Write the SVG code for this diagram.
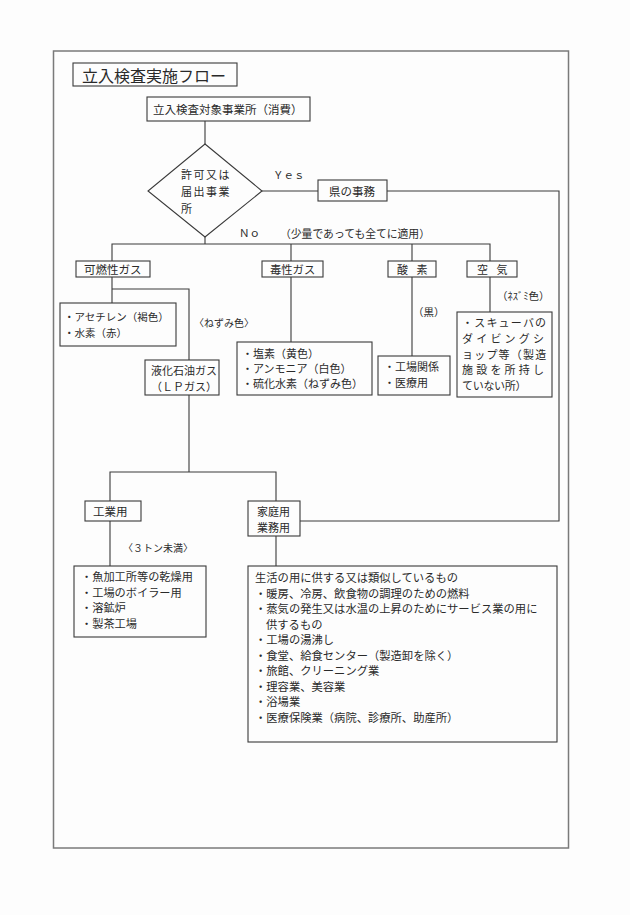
<svg xmlns="http://www.w3.org/2000/svg" width="630" height="915" viewBox="0 0 630 915">
<style>
.bg{fill:#fdfdfd}
.frame{fill:none;stroke:#7a7a7a;stroke-width:1.5}
.box{fill:#fdfdfd;stroke:#3a3a3a;stroke-width:1.1}
.ln{fill:none;stroke:#3a3a3a;stroke-width:1.1}
text{font-family:"Noto Sans CJK JP","Noto Sans CJK SC",sans-serif;fill:#2a2a2a;font-size:11px;dominant-baseline:central}
.t{font-size:16px}
</style>
<rect class="bg" x="0" y="0" width="630" height="915"/>
<rect class="frame" x="53.5" y="51" width="515" height="797"/>
<g id="connectors">
<path class="ln" d="M205 121V144"/>
<path class="ln" d="M262 191H318"/>
<path class="ln" d="M387 191H559V521H300"/>
<path class="ln" d="M205 237V244"/>
<path class="ln" d="M112 261V244H490V261"/>
<path class="ln" d="M291 244V261"/>
<path class="ln" d="M412 244V261"/>
<path class="ln" d="M112 277V303"/>
<path class="ln" d="M112 289H189V360"/>
<path class="ln" d="M291 277V342"/>
<path class="ln" d="M412 277V356"/>
<path class="ln" d="M490 277V312"/>
<path class="ln" d="M189 395V472"/>
<path class="ln" d="M110 501V472H276V501"/>
<path class="ln" d="M110 521V566"/>
<path class="ln" d="M276 536V566"/>
</g>
<g id="title"><rect class="box" x="73" y="63" width="164" height="23"/><text class="t" x="82" y="75">立入検査実施フロー</text></g>
<g id="start"><rect class="box" x="147" y="97" width="163" height="24"/><text x="153" y="109" style="font-size:11.5px">立入検査対象事業所（消費）</text></g>
<g id="decision"><polygon class="box" points="205,144 262,191 205,237 148,191"/>
<text x="181" y="174" letter-spacing="1.5">許可又は</text>
<text x="181" y="191" letter-spacing="1.5">届出事業</text>
<text x="181" y="208">所</text></g>
<text x="273" y="174" style="font-size:10.5px">Ｙｅｓ</text>
<text x="239" y="232" style="font-size:10.5px">Ｎｏ</text>
<text x="280" y="233" style="font-size:10.8px">（少量であっても全てに適用）</text>
<g id="pref"><rect class="box" x="318" y="180" width="69" height="21"/><text x="329" y="191" style="font-size:11.5px">県の事務</text></g>
<g id="flammable"><rect class="box" x="76" y="261" width="74" height="16"/><text x="84" y="269" style="font-size:11.5px">可燃性ガス</text></g>
<g id="toxic"><rect class="box" x="262" y="261" width="61" height="16"/><text x="270" y="269" style="font-size:11.3px">毒性ガス</text></g>
<g id="oxygen"><rect class="box" x="388" y="261" width="48" height="16"/><text x="397" y="269" letter-spacing="3">酸 素</text></g>
<g id="air"><rect class="box" x="467" y="261" width="50" height="16"/><text x="477" y="269" letter-spacing="3">空 気</text></g>
<g id="acetylene"><rect class="box" x="60" y="303" width="116" height="43"/>
<text x="64" y="316" style="font-size:10.5px">・アセチレン（褐色）</text>
<text x="64" y="332" style="font-size:10.5px">・水素（赤）</text></g>
<text x="194" y="322" style="font-size:10px">〈ねずみ色〉</text>
<g id="lpg"><rect class="box" x="145" y="360" width="74" height="35"/>
<text x="151" y="370">液化石油ガス</text>
<text x="151" y="386">（ＬＰガス）</text></g>
<g id="toxiclist"><rect class="box" x="237" y="342" width="135" height="53"/>
<text x="242" y="353">・塩素（黄色）</text>
<text x="242" y="368">・アンモニア（白色）</text>
<text x="242" y="383">・硫化水素（ねずみ色）</text></g>
<text x="413" y="311" style="font-size:10.5px">（黒）</text>
<g id="oxylist"><rect class="box" x="378" y="356" width="72" height="39"/>
<text x="384" y="366">・工場関係</text>
<text x="384" y="382">・医療用</text></g>
<text x="497" y="295" style="font-size:10.5px">（ﾈｽﾞﾐ色）</text>
<g id="airlist"><rect class="box" x="457" y="312" width="95" height="85"/>
<text x="462" y="322" letter-spacing="1.2">・スキューバの</text>
<text x="462" y="338" letter-spacing="3.2">ダイビングシ</text>
<text x="462" y="354" letter-spacing="1.2">ョップ等（製造</text>
<text x="462" y="369" letter-spacing="3.2">施設を所持し</text>
<text x="462" y="385" letter-spacing="-0.3">ていない所）</text></g>
<g id="industrial"><rect class="box" x="85" y="501" width="56" height="20"/><text x="93" y="511" style="font-size:11.5px">工業用</text></g>
<g id="household"><rect class="box" x="248" y="501" width="52" height="35"/>
<text x="257" y="511">家庭用</text>
<text x="257" y="527">業務用</text></g>
<text x="123" y="547" style="font-size:10px">〈３トン未満〉</text>
<g id="industriallist"><rect class="box" x="74" y="566" width="132" height="71"/>
<text x="81" y="576" style="font-size:11.2px">・魚加工所等の乾燥用</text>
<text x="81" y="592" style="font-size:11.2px">・工場のボイラー用</text>
<text x="81" y="607" style="font-size:11.2px">・溶鉱炉</text>
<text x="81" y="623" style="font-size:11.2px">・製茶工場</text></g>
<g id="householdlist"><rect class="box" x="248" y="566" width="309" height="176"/>
<text x="255" y="577" style="font-size:11.3px">生活の用に供する又は類似しているもの</text>
<text x="255" y="592.5" style="font-size:11.3px">・暖房、冷房、飲食物の調理のための燃料</text>
<text x="255" y="608" style="font-size:11.3px">・蒸気の発生又は水温の上昇のためにサービス業の用に</text>
<text x="266" y="623.5" style="font-size:11.3px">供するもの</text>
<text x="255" y="639" style="font-size:11.3px">・工場の湯沸し</text>
<text x="255" y="654.5" style="font-size:11.3px">・食堂、給食センター（製造卸を除く）</text>
<text x="255" y="670" style="font-size:11.3px">・旅館、クリーニング業</text>
<text x="255" y="685.5" style="font-size:11.3px">・理容業、美容業</text>
<text x="255" y="701" style="font-size:11.3px">・浴場業</text>
<text x="255" y="716.5" style="font-size:11.3px">・医療保険業（病院、診療所、助産所）</text></g>
</svg>
